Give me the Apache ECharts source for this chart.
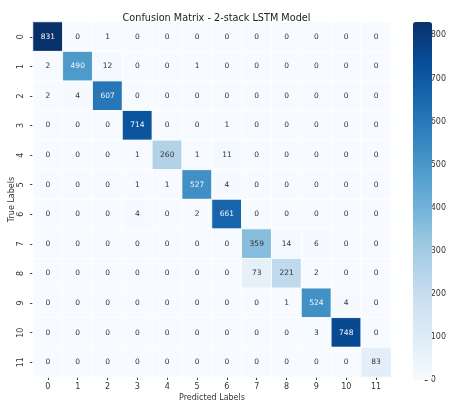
<!DOCTYPE html>
<html>
<head>
<meta charset="utf-8">
<script src="https://cdn.jsdelivr.net/npm/echarts@6/dist/echarts.min.js"></script>
<style>
  html, body { margin: 0; padding: 0; background: #fff; }
  #chart { width: 449px; height: 407px; }
</style>
</head>
<body>
<div id="chart"></div>
<script>
// Class labels shared by both axes
const classLabels = ['0', '1', '2', '3', '4', '5', '6', '7', '8', '9', '10', '11'];

// Counts per true label (row), columns are predicted labels
const trueRow0  = [831, 0, 1, 0, 0, 0, 0, 0, 0, 0, 0, 0];
const trueRow1  = [2, 490, 12, 0, 0, 1, 0, 0, 0, 0, 0, 0];
const trueRow2  = [2, 4, 607, 0, 0, 0, 0, 0, 0, 0, 0, 0];
const trueRow3  = [0, 0, 0, 714, 0, 0, 1, 0, 0, 0, 0, 0];
const trueRow4  = [0, 0, 0, 1, 260, 1, 11, 0, 0, 0, 0, 0];
const trueRow5  = [0, 0, 0, 1, 1, 527, 4, 0, 0, 0, 0, 0];
const trueRow6  = [0, 0, 0, 4, 0, 2, 661, 0, 0, 0, 0, 0];
const trueRow7  = [0, 0, 0, 0, 0, 0, 0, 359, 14, 6, 0, 0];
const trueRow8  = [0, 0, 0, 0, 0, 0, 0, 73, 221, 2, 0, 0];
const trueRow9  = [0, 0, 0, 0, 0, 0, 0, 0, 1, 524, 4, 0];
const trueRow10 = [0, 0, 0, 0, 0, 0, 0, 0, 0, 3, 748, 0];
const trueRow11 = [0, 0, 0, 0, 0, 0, 0, 0, 0, 0, 0, 83];

// Colour bar tick values
const colorbarTicks = [0, 100, 200, 300, 400, 500, 600, 700, 800];

const rows = [trueRow0, trueRow1, trueRow2, trueRow3, trueRow4, trueRow5,
              trueRow6, trueRow7, trueRow8, trueRow9, trueRow10, trueRow11];

const cells = [];
let maxCount = 0;
rows.forEach(function (row, r) {
  row.forEach(function (v, c) {
    cells.push([c, r, v]);
    if (v > maxCount) maxCount = v;
  });
});

// Sequential blue ramp
const blues = ['#f7fbff', '#deebf7', '#c6dbef', '#9ecae1', '#6baed6',
               '#4292c6', '#2171b5', '#08519c', '#08306b'];

const FONT = 'DejaVu Sans';
const TEXT = '#333';

const gridLeft = 32, gridTop = 22, gridW = 359, gridH = 358;
const barLeft = 413, barW = 19;

const chart = echarts.init(document.getElementById('chart'), null, { renderer: 'canvas' });

chart.setOption({
  backgroundColor: '#fff',
  animation: false,
  title: {
    text: 'Confusion Matrix - 2-stack LSTM Model',
    left: gridLeft + gridW / 2,
    textAlign: 'center',
    top: 8,
    textStyle: { fontFamily: FONT, fontSize: 9.7, fontWeight: 'normal', color: '#222' }
  },
  grid: [
    { left: gridLeft, top: gridTop, width: gridW, height: gridH },
    { left: barLeft, top: gridTop, width: barW, height: gridH }
  ],
  xAxis: [
    {
      type: 'category',
      gridIndex: 0,
      data: classLabels,
      name: 'Predicted Labels',
      nameLocation: 'middle',
      nameGap: 17,
      nameMoveOverlap: false,
      nameTextStyle: { fontFamily: FONT, fontSize: 8, color: TEXT },
      axisLine: { show: false },
      axisTick: { show: true, alignWithLabel: true, length: 3, lineStyle: { color: '#444' } },
      axisLabel: { fontFamily: FONT, fontSize: 8, color: TEXT, margin: 6 },
      splitLine: { show: false },
      splitArea: { show: false }
    },
    { type: 'value', gridIndex: 1, show: false, min: 0, max: 1 }
  ],
  yAxis: [
    {
      type: 'category',
      gridIndex: 0,
      data: classLabels,
      inverse: true,
      name: 'True Labels',
      nameLocation: 'middle',
      nameGap: 17,
      nameRotate: 90,
      nameMoveOverlap: false,
      nameTextStyle: { fontFamily: FONT, fontSize: 8, color: TEXT },
      axisLine: { show: false },
      axisTick: { show: true, alignWithLabel: true, length: 3, lineStyle: { color: '#444' } },
      axisLabel: {
        fontFamily: FONT, fontSize: 8, color: TEXT, rotate: 90, margin: 12,
        align: 'center', verticalAlign: 'middle'
      },
      splitLine: { show: false },
      splitArea: { show: false }
    },
    {
      type: 'value',
      gridIndex: 1,
      position: 'right',
      min: 0,
      max: maxCount,
      interval: 100,
      axisLine: { show: false, onZero: false },
      axisTick: { show: true, length: 3, lineStyle: { color: '#444' } },
      axisLabel: {
        fontFamily: FONT, fontSize: 8, color: TEXT, margin: 6,
        showMaxLabel: false,
        formatter: function (v) { return colorbarTicks.indexOf(v) >= 0 ? String(v) : ''; }
      },
      splitLine: { show: false }
    }
  ],
  visualMap: {
    type: 'continuous',
    seriesIndex: 0,
    min: 0,
    max: maxCount,
    calculable: false,
    hoverLink: false,
    orient: 'vertical',
    left: barLeft,
    top: gridTop,
    padding: 0,
    itemWidth: barW,
    itemHeight: gridH,
    text: null,
    showLabel: false,
    inRange: { color: blues }
  },
  series: [
    {
      type: 'heatmap',
      xAxisIndex: 0,
      yAxisIndex: 0,
      data: cells.map(function (d) {
        return {
          value: d,
          // light text on dark cells, dark text on light cells
          label: { color: d[2] > 420 ? '#f4f8fc' : TEXT }
        };
      }),
      itemStyle: { borderColor: 'rgba(255,255,255,0.85)', borderWidth: 1 },
      label: {
        show: true,
        fontFamily: FONT,
        fontSize: 7.5,
        formatter: function (p) { return String(p.value[2]); }
      },
      emphasis: { disabled: true }
    }
  ]
});
</script>
</body>
</html>
